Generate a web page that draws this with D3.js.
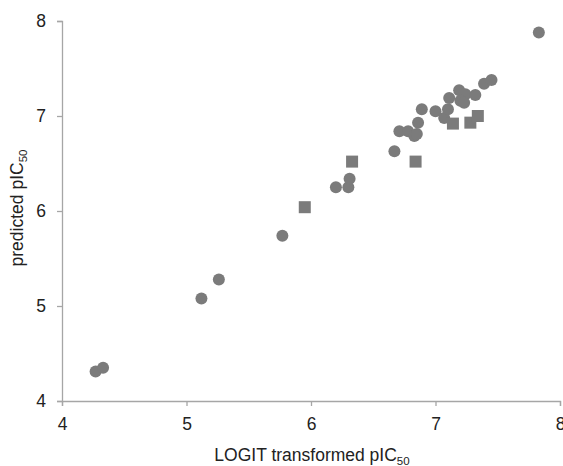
<!DOCTYPE html>
<html>
<head>
<meta charset="UTF-8">
<title>predicted vs LOGIT pIC50</title>
<script src="https://d3js.org/d3.v7.min.js"></script>
<style>
  body { margin: 0; background: #fff; }
  text { font-family: "Liberation Sans", Arial, sans-serif; fill: #222; }
</style>
</head>
<body>
<div id="chart"></div>
<script>
// circles: training set (x = LOGIT transformed, y = predicted)
var circleX = [4.27, 4.33, 5.12, 5.26, 5.77, 6.20, 6.30, 6.31, 6.67, 6.71, 6.78, 6.83, 6.85, 6.86, 6.89,
               7.00, 7.07, 7.10, 7.11, 7.19, 7.24, 7.20, 7.23, 7.32, 7.39, 7.45, 7.83];
var circleY = [4.31, 4.35, 5.08, 5.28, 5.74, 6.25, 6.25, 6.34, 6.63, 6.84, 6.84, 6.79, 6.81, 6.93, 7.07,
               7.05, 6.98, 7.07, 7.19, 7.27, 7.23, 7.16, 7.14, 7.22, 7.34, 7.38, 7.88];
// squares: test set
var squareX = [5.95, 6.33, 6.84, 7.14, 7.28, 7.34];
var squareY = [6.04, 6.52, 6.52, 6.92, 6.93, 7.00];
var xTicks = [4, 5, 6, 7, 8];
var yTicks = [4, 5, 6, 7, 8];

var W = 563, H = 466;
var margin = {top: 21, right: 3, bottom: 65, left: 62};
var width = W - margin.left - margin.right,
    height = H - margin.top - margin.bottom;

var svg = d3.select("#chart").append("svg")
    .attr("width", W).attr("height", H);
var g = svg.append("g")
    .attr("transform", "translate(" + margin.left + "," + margin.top + ")");

var x = d3.scaleLinear().domain([4, 8]).range([0, width]);
var y = d3.scaleLinear().domain([4, 8]).range([height, 0]);

var axisColor = "#a6a6a6";

// x axis
var xa = g.append("g")
    .attr("transform", "translate(0," + height + ")")
    .call(d3.axisBottom(x).tickValues(xTicks).tickSize(5).tickPadding(12).tickFormat(d3.format("d")));
// y axis
var ya = g.append("g")
    .call(d3.axisLeft(y).tickValues(yTicks).tickSize(5).tickPadding(11).tickFormat(d3.format("d")));

[xa, ya].forEach(function(a) {
  a.select(".domain").attr("stroke", axisColor).attr("stroke-width", 1.3);
  a.selectAll(".tick line").attr("stroke", axisColor).attr("stroke-width", 1.3);
  a.selectAll(".tick text").attr("fill", "#222").style("font-size", "17.5px")
    .style("font-family", "'Liberation Sans', Arial, sans-serif");
});

var markColor = "#7b7b7b";

// circles
g.selectAll("circle.pt")
  .data(circleX.map(function(d, i) { return [d, circleY[i]]; }))
  .enter().append("circle")
    .attr("class", "pt")
    .attr("cx", function(d) { return x(d[0]); })
    .attr("cy", function(d) { return y(d[1]); })
    .attr("r", 6)
    .attr("fill", markColor);

// squares
var s = 12;
g.selectAll("rect.pt")
  .data(squareX.map(function(d, i) { return [d, squareY[i]]; }))
  .enter().append("rect")
    .attr("class", "pt")
    .attr("x", function(d) { return x(d[0]) - s / 2; })
    .attr("y", function(d) { return y(d[1]) - s / 2; })
    .attr("width", s).attr("height", s)
    .attr("fill", markColor);

// axis titles
var xt = svg.append("text")
    .attr("x", margin.left + width / 2 + 1)
    .attr("y", 461)
    .attr("text-anchor", "middle")
    .style("font-size", "17.5px");
xt.append("tspan").text("LOGIT transformed pIC");
xt.append("tspan").text("50").attr("dy", 4).style("font-size", "11.5px");

var yt = svg.append("text")
    .attr("transform", "translate(23," + (margin.top + height / 2 - 3) + ") rotate(-90)")
    .attr("text-anchor", "middle")
    .style("font-size", "17.5px");
yt.append("tspan").text("predicted pIC");
yt.append("tspan").text("50").attr("dy", 4).style("font-size", "11.5px");
</script>
</body>
</html>
